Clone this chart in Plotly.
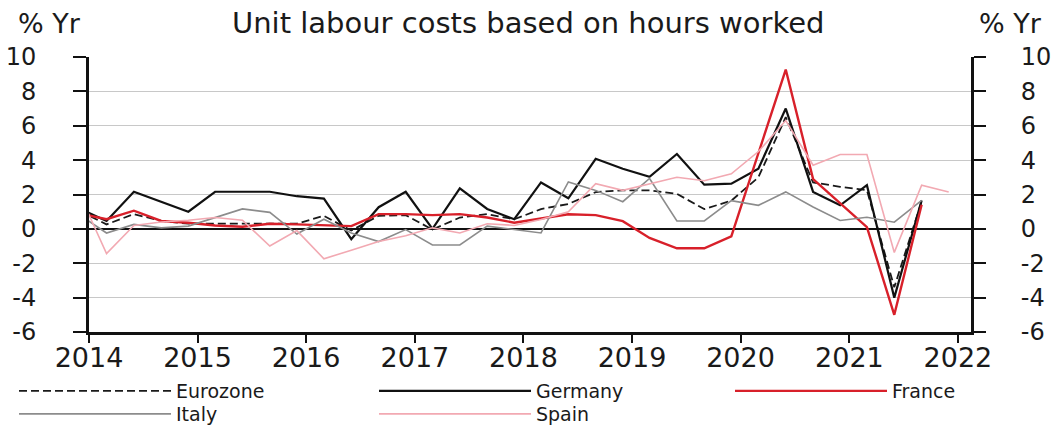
import pandas as pd
import plotly.graph_objects as go

quarters = ["2013Q4",
            "2014Q1", "2014Q2", "2014Q3", "2014Q4",
            "2015Q1", "2015Q2", "2015Q3", "2015Q4",
            "2016Q1", "2016Q2", "2016Q3", "2016Q4",
            "2017Q1", "2017Q2", "2017Q3", "2017Q4",
            "2018Q1", "2018Q2", "2018Q3", "2018Q4",
            "2019Q1", "2019Q2", "2019Q3", "2019Q4",
            "2020Q1", "2020Q2", "2020Q3", "2020Q4",
            "2021Q1", "2021Q2", "2021Q3", "2021Q4"]

eurozone = [1.03, 0.26, 0.86, 0.46, 0.3, 0.3, 0.26, 0.26, 0.3, 0.76, -0.1, 0.76, 0.8,
            -0.04, 0.66, 0.86, 0.56, 1.15, 1.45, 2.14, 2.24, 2.24, 2.04, 1.15, 1.64,
            3.0, 6.5, 2.7, 2.45, 2.25, -3.4, 1.6, None]
germany = [1.17, 0.46, 2.16, 1.58, 1.0, 2.16, 2.16, 2.16, 1.9, 1.76, -0.6, 1.26, 2.16,
           0.0, 2.36, 1.16, 0.56, 2.7, 1.78, 4.08, 3.5, 3.03, 4.36, 2.57, 2.63,
           3.5, 7.0, 2.15, 1.37, 2.54, -4.0, 1.66, None]
france = [0.9, 0.56, 1.06, 0.46, 0.36, 0.2, 0.12, 0.3, 0.26, 0.2, 0.16, 0.86, 0.86,
          0.8, 0.86, 0.66, 0.36, 0.6, 0.85, 0.8, 0.45, -0.53, -1.13, -1.13, -0.43,
          4.4, 9.27, 2.9, 1.5, 0.1, -5.0, 1.4, None]
italy = [0.81, -0.24, 0.26, 0.06, 0.16, 0.66, 1.16, 0.96, -0.3, 0.56, -0.24, -0.74, -0.04,
         -0.94, -0.94, 0.16, -0.04, -0.24, 2.73, 2.24, 1.58, 2.93, 0.46, 0.46, 1.64,
         1.37, 2.15, 1.27, 0.49, 0.68, 0.39, 1.66, None]
spain = [2.0, -1.44, 0.2, 0.4, 0.5, 0.66, 0.5, -1.0, -0.1, -1.74, -1.24, -0.74, -0.4,
         0.06, -0.24, 0.3, 0.2, 0.55, 1.0, 2.63, 2.24, 2.63, 3.0, 2.8, 3.2,
         4.5, 6.3, 3.7, 4.33, 4.33, -1.37, 2.54, 2.15]

series_names = ["Eurozone", "Germany", "France", "Italy", "Spain"]
y_ticks = [-6, -4, -2, 0, 2, 4, 6, 8, 10]
y_tick_labels = ["-6", "-4", "-2", "0", "2", "4", "6", "8", "10"]
title_text = "Unit labour costs based on hours worked"
unit_text = "% Yr"

# plot each quarter at the start of its final month
dates = pd.PeriodIndex(quarters, freq="Q").asfreq("M", how="end").to_timestamp()

FONT = "DejaVu Sans"
TXT = "#1a1a1a"

styles = {
    "Eurozone": dict(color="#1a1a1a", width=1.8, dash="8px,4px"),
    "Germany": dict(color="#111111", width=2.2),
    "France": dict(color="#d8202a", width=2.4),
    "Italy": dict(color="#8c8c8c", width=1.6),
    "Spain": dict(color="#f2a9b2", width=1.6),
}
values = {"Eurozone": eurozone, "Germany": germany, "France": france,
          "Italy": italy, "Spain": spain}
legend_ids = {"Eurozone": "legend", "Germany": "legend2", "France": "legend3",
              "Italy": "legend4", "Spain": "legend5"}

fig = go.Figure()
for name in series_names:
    fig.add_trace(go.Scatter(
        x=dates, y=values[name], mode="lines", name=name,
        line=styles[name], connectgaps=False,
        legend=legend_ids[name],
    ))
# empty trace so the right-hand axis is drawn
fig.add_trace(go.Scatter(x=[], y=[], yaxis="y2", showlegend=False, hoverinfo="skip"))

# geometry of plot area (px)
W, H = 1064, 428
L, R, T, B = 89, 93, 57, 96
pw, ph = W - L - R, H - T - B


def px_x(x):
    return (x - L) / pw


def px_y(y):
    return (H - B - y) / ph


legend_common = dict(
    orientation="v", xanchor="left", yanchor="middle",
    bgcolor="rgba(0,0,0,0)", borderwidth=0, itemwidth=152,
    font=dict(family=FONT, size=19, color=TXT),
)
leg_pos = {"legend": (14, 391), "legend2": (374, 391), "legend3": (730, 391),
           "legend4": (14, 414), "legend5": (374, 414)}
legend_layouts = {}
for lid, (lx, ly) in leg_pos.items():
    legend_layouts[lid] = dict(legend_common, x=px_x(lx), y=px_y(ly))

axis_font = dict(family=FONT, size=24, color=TXT)

fig.update_layout(
    width=W, height=H,
    margin=dict(l=L, r=R, t=T, b=B, pad=0, autoexpand=False),
    paper_bgcolor="white", plot_bgcolor="white",
    showlegend=True,
    xaxis=dict(
        type="date", automargin=False,
        range=["2014-01-01", "2022-02-14"],
        tick0="2014-01-01", dtick="M12", tickformat="%Y",
        showgrid=False, zeroline=False,
        showline=True, linecolor="#111111", linewidth=3,
        ticks="outside", ticklen=8, tickwidth=2, tickcolor="#111111",
        tickfont=dict(family=FONT, size=27, color=TXT),
        ticklabelstandoff=-8,
    ),
    yaxis=dict(
        range=[-6, 10], tickvals=y_ticks, ticktext=y_tick_labels, automargin=False,
        showgrid=True, gridcolor="#c8c8c8", gridwidth=1,
        zeroline=True, zerolinecolor="#111111", zerolinewidth=2,
        showline=True, linecolor="#111111", linewidth=3,
        ticks="outside", ticklen=13, tickwidth=2, tickcolor="#111111",
        tickfont=axis_font, ticklabelstandoff=32,
    ),
    yaxis2=dict(
        range=[-6, 10], tickvals=y_ticks, ticktext=y_tick_labels, overlaying="y",
        side="right", anchor="x", showgrid=False, zeroline=False, automargin=False,
        showline=True, linecolor="#111111", linewidth=3,
        ticks="outside", ticklen=12, tickwidth=2, tickcolor="#111111",
        tickfont=axis_font, ticklabelstandoff=30,
    ),
    annotations=[
        dict(text=title_text, xref="paper", yref="paper", x=px_x(528), y=px_y(23),
             xanchor="center", yanchor="middle", showarrow=False,
             font=dict(family=FONT, size=29, color=TXT)),
        dict(text=unit_text, xref="paper", yref="paper", x=px_x(49), y=px_y(23),
             xanchor="center", yanchor="middle", showarrow=False,
             font=dict(family=FONT, size=27, color=TXT)),
        dict(text=unit_text, xref="paper", yref="paper", x=px_x(1011), y=px_y(23),
             xanchor="center", yanchor="middle", showarrow=False,
             font=dict(family=FONT, size=27, color=TXT)),
    ],
    **legend_layouts,
)

fig.write_html("out.html", config={"displayModeBar": False},
               post_script="document.body.style.margin='0';")
